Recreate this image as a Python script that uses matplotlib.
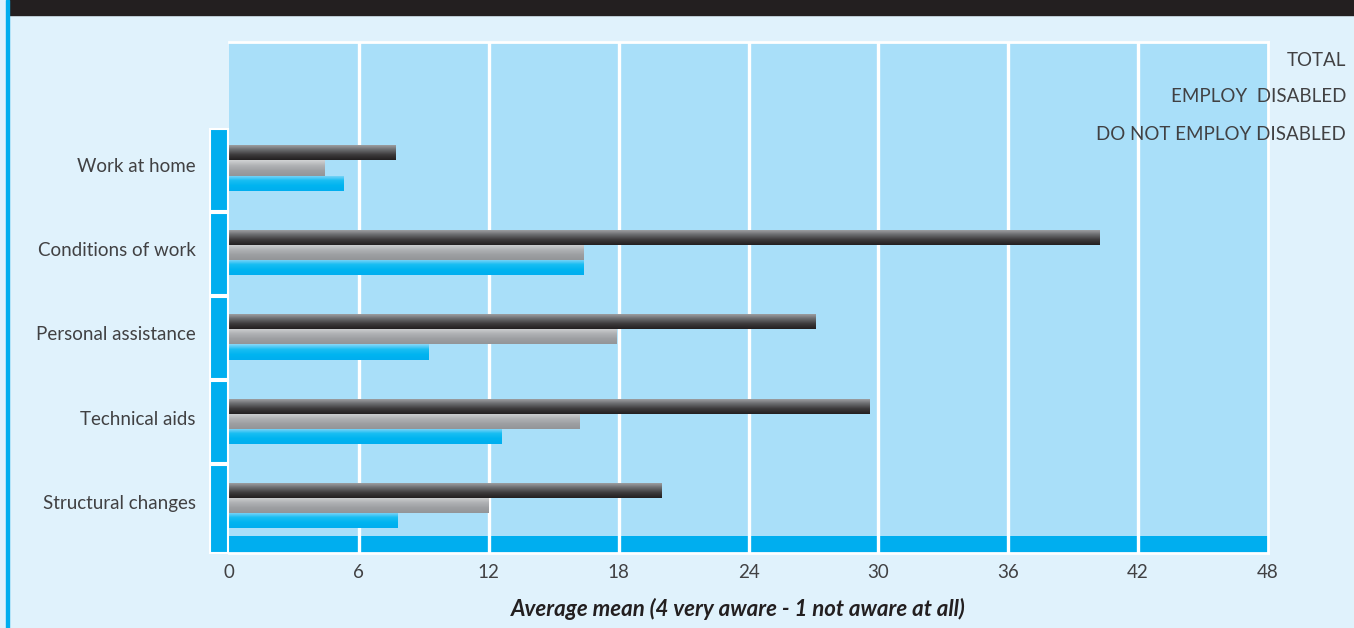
import numpy as np
import matplotlib.pyplot as plt
from matplotlib.patches import Rectangle
from matplotlib.colors import LinearSegmentedColormap

# awareness scores per measure
categories = ["Work at home", "Conditions of work", "Personal assistance",
              "Technical aids", "Structural changes"]
total = [7.7, 40.2, 27.1, 29.6, 20.0]
employ = [4.4, 16.4, 17.9, 16.2, 12.0]
not_employ = [5.3, 16.4, 9.2, 12.6, 7.8]
series_names = ["TOTAL", "EMPLOY  DISABLED", "DO NOT EMPLOY DISABLED"]
xticks = [0, 6, 12, 18, 24, 30, 36, 42, 48]
xlabel = "Average mean (4 very aware - 1 not aware at all)"

BG = "#e0f2fc"
PANEL = "#a9dff9"
CYAN = "#00aeef"
TXT = "#414143"
FONT = ["Lato", "DejaVu Sans"]

gradients = [
    ["#a7a9ac", "#6d6e71", "#3d3b3c", "#231f20"],          # total
    ["#d1d3d4", "#b1b3b6", "#9d9fa2", "#939598"],          # employ
    ["#8ad8f8", "#19bdf2", "#00b4f0", "#00aeef"],          # do not employ
]

fig = plt.figure(figsize=(13.54, 6.28), dpi=100)
fig.patch.set_facecolor(BG)

# header strip and left border
fig.patches.append(Rectangle((9 / 1354, 1 - 15 / 628), 1, 15 / 628,
                             transform=fig.transFigure, color="#231f20", zorder=0))
fig.patches.append(Rectangle((6 / 1354, 0), 3 / 1354, 1,
                             transform=fig.transFigure, color=CYAN, zorder=0))

ax = fig.add_axes([229 / 1354, 1 - 553 / 628, 1039 / 1354, 511 / 628])
ax.set_facecolor(PANEL)
ax.set_xlim(0, 48)
ax.set_ylim(4.583, -1.5)

bar_h = 0.18
offsets = [-bar_h, 0, bar_h]
y = np.arange(len(categories)) * 1.005
grad = np.linspace(0, 1, 64).reshape(-1, 1)
for k, vals in enumerate([total, employ, not_employ]):
    cmap = LinearSegmentedColormap.from_list("g%d" % k, gradients[k])
    bars = ax.barh(y + offsets[k], vals, height=bar_h, color="none",
                   edgecolor="none", zorder=3)
    for b in bars:
        x0, y0 = b.get_x(), b.get_y()
        w, h = b.get_width(), b.get_height()
        im = ax.imshow(grad, cmap=cmap, aspect="auto", origin="upper",
                       extent=(x0, x0 + w, y0 + h, y0), zorder=3)
        im.set_clip_path(b)

# floor strip
ax.barh(4.482, 48, height=0.2, color=CYAN, zorder=1.5)

for xv in xticks[1:-1]:
    ax.axvline(xv, color="white", lw=2.4, zorder=2.5)

for s in ax.spines.values():
    s.set_color("white")
    s.set_linewidth(2)
ax.spines["left"].set_visible(False)

# side wall, one segment per category
for i in range(len(categories)):
    top = i - 0.47
    bottom = 4.583 if i == len(categories) - 1 else i + 0.51
    ax.add_patch(Rectangle((-0.9, top), 0.85, bottom - top, facecolor=CYAN,
                           edgecolor="white", lw=1.5, clip_on=False, zorder=4))

ax.set_xticks(xticks)
ax.set_xticklabels([str(v) for v in xticks], family=FONT,
                   fontsize=13.5, color=TXT)
ax.tick_params(axis="x", length=0, pad=8)
ax.set_yticks(y - 0.04)
ax.set_yticklabels(categories, family=FONT, fontsize=13.5, color=TXT)
ax.tick_params(axis="y", length=0, pad=24)

fig.text(738 / 1354, 1 - 609 / 628, xlabel, ha="center", va="center",
         family=FONT, fontsize=16, fontweight="bold", fontstyle="italic",
         color="#231f20")

for j, name in enumerate(series_names):
    fig.text(1346 / 1354, 1 - (60 + 37 * j) / 628, name, ha="right",
             va="center", family=FONT, fontsize=13.5,
             color=TXT, zorder=10)

fig.savefig("out.png", dpi=100, facecolor=fig.get_facecolor())
